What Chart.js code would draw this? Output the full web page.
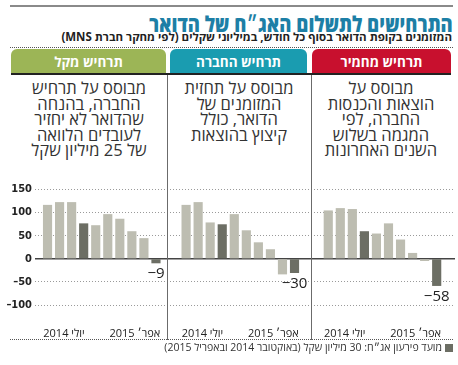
<!DOCTYPE html>
<html lang="he">
<head>
<meta charset="utf-8">
<script src="https://cdn.jsdelivr.net/npm/chart.js@4.4.0/dist/chart.umd.min.js"></script>
<style>
  html, body { margin: 0; padding: 0; background: #fff; }
  #page { position: relative; width: 458px; height: 365px; overflow: hidden; font-family: "Open Sans", "Liberation Sans", sans-serif; }
  .abs { position: absolute; }
  .rule { position: absolute; left: 10px; width: 443px; }
  #title { right: 5px; top: 8px; font-size: 22px; font-weight: 800; color: #1d7fa6; white-space: nowrap; line-height: 30px; transform: scaleX(0.84); transform-origin: right center; }
  #subtitle { right: 6px; top: 30px; font-size: 11.5px; font-weight: 700; color: #222; white-space: nowrap; line-height: 14px; }
  .tab { position: absolute; top: 49px; height: 24px; border-radius: 6px 6px 0 0; color: #fff; font-weight: 700; font-size: 13.5px; line-height: 26px; text-align: center; }
  .desc { position: absolute; top: 80px; font-size: 16.5px; line-height: 15.5px; color: #333; text-align: center; direction: rtl; }
  .divider { position: absolute; top: 75px; width: 1px; height: 265px; background: #6b6b6b; }
  #chartBox { position: absolute; left: 0; top: 170px; width: 458px; height: 175px; }
  #legend { right: 5px; top: 340px; font-size: 10.5px; color: #333; direction: rtl; white-space: nowrap; line-height: 14px; }
  #legend span.sq { display: inline-block; width: 8px; height: 8px; background: #6c6e64; margin-left: 3px; vertical-align: -1px; }
</style>
</head>
<body>
<div id="page">
  <div class="rule" style="top:5px;height:2px;background:#8a8a8a;"></div>
  <div id="title" class="abs" dir="rtl">התרחישים לתשלום האג״ח של הדואר</div>
  <div id="subtitle" class="abs" dir="rtl">המזומנים בקופת הדואר בסוף כל חודש, במיליוני שקלים (לפי מחקר חברת MNS)</div>
  <div class="rule" style="top:47px;height:0;border-top:1px dotted #555;"></div>

  <div class="tab" style="left:11px;width:155px;background:#9cb556;">תרחיש מקל</div>
  <div class="tab" style="left:170px;width:137px;background:#1a9cb0;">תרחיש החברה</div>
  <div class="tab" style="left:312px;width:139px;background:#c8102e;">תרחיש מחמיר</div>
  <div class="abs" style="left:11px;top:73px;width:440px;height:2px;background:#222;"></div>

  <div class="desc" style="left:11px;width:156px;">מבוסס על תרחיש<br>החברה, בהנחה<br>שהדואר לא יחזיר<br>לעובדים הלוואה<br>של 25 מיליון שקל</div>
  <div class="desc" style="left:167px;width:144px;">מבוסס על תחזית<br>המזומנים של<br>הדואר, כולל<br>קיצוץ בהוצאות</div>
  <div class="desc" style="left:311px;width:140px;">מבוסס על<br>הוצאות והכנסות<br>החברה, לפי<br>המגמה בשלוש<br>השנים האחרונות</div>

  <div id="chartBox"><canvas id="chart" width="458" height="175"></canvas></div>

  <div class="divider" style="left:167px;"></div>
  <div class="divider" style="left:311px;"></div>

  <div class="rule" style="top:339px;height:0;border-top:1px dotted #555;"></div>
  <div id="legend" class="abs"><span class="sq"></span>מועד פירעון אג״ח: 30 מיליון שקל (באוקטובר 2014 ובאפריל 2015)</div>
</div>

<script>
// months shown in each panel (left to right)
const months = ['2014-07', '2014-08', '2014-09', '2014-10', '2014-11', '2014-12', '2015-01', '2015-02', '2015-03', '2015-04'];
const bondMonths = ['2014-10', '2015-04'];
const xTickLabels = ['יולי 2014', 'אפר׳ 2015'];
const yTicks = [150, 100, 50, 0, -50, -100];

// cash at end of month, millions of shekels
const mildScenario = [116, 122, 122, 76, 72, 96, 86, 59, 44, -9];
const companyScenario = [116, 122, 78, 74, 96, 61, 35, 20, -33, -30];
const severeScenario = [104, 109, 107, 59, 54, 76, 41, 12, -4, -58];
const endLabels = ['−9', '−30', '−58'];

const scenarios = [mildScenario, companyScenario, severeScenario];
const panelStart = [0, 11.5, 23.3]; // where each panel begins on the shared x scale

const LIGHT = '#bdbdb1';
const DARK = '#6c6e64';
const BAR_W = 8.5;

const datasets = scenarios.map((vals, p) => ({
  data: vals.map((v, i) => ({ x: panelStart[p] + i, y: v })),
  backgroundColor: (c) => bondMonths.includes(months[c.dataIndex]) ? DARK : LIGHT,
  barThickness: BAR_W,
  grouped: false,
  borderWidth: 0
}));

const panelLabels = {
  id: 'panelLabels',
  afterDatasetsDraw(chart) {
    const ctx = chart.ctx;
    const xs = chart.scales.x, ys = chart.scales.y;
    ctx.save();
    ctx.direction = 'rtl';
    ctx.fillStyle = '#222';
    ctx.textBaseline = 'middle';
    // month labels under first and last bar of each panel
    ctx.font = '11px "Open Sans", "Liberation Sans", sans-serif';
    const yLab = chart.chartArea.bottom + 16;
    scenarios.forEach((vals, p) => {
      const first = xs.getPixelForValue(panelStart[p]) - BAR_W / 2;
      const last = xs.getPixelForValue(panelStart[p] + vals.length - 1) + BAR_W / 2;
      ctx.textAlign = 'left';
      ctx.fillText(xTickLabels[0], first, yLab);
      ctx.textAlign = 'right';
      ctx.fillText(xTickLabels[1], last, yLab);
    });
    // value of the final month under the last bar
    ctx.direction = 'ltr';
    ctx.textAlign = 'center';
    ctx.font = '15px "Open Sans", "Noto Sans", sans-serif';
    scenarios.forEach((vals, p) => {
      const i = vals.length - 1;
      const x = xs.getPixelForValue(panelStart[p] + i);
      const y = ys.getPixelForValue(vals[i]) + 11;
      ctx.fillText(endLabels[p], x, y);
    });
    ctx.restore();
  }
};

new Chart(document.getElementById('chart'), {
  type: 'bar',
  data: { datasets },
  plugins: [panelLabels],
  options: {
    responsive: false,
    animation: false,
    devicePixelRatio: 1,
    layout: { padding: { left: 0, right: 3, top: 14, bottom: 27 } },
    plugins: { legend: { display: false }, tooltip: { enabled: false } },
    scales: {
      x: {
        type: 'linear',
        offset: false,
        min: -1.04,
        max: 33.82,
        display: false
      },
      y: {
        min: -128.1,
        max: 161.9,
        afterFit: (s) => { s.width = 35; },
        afterBuildTicks: (s) => { s.ticks = yTicks.map(v => ({ value: v })); },
        border: {
          display: false,
          dash: (c) => c.tick && c.tick.value === 0 ? [] : [1, 2]
        },
        grid: {
          drawTicks: false,
          color: (c) => c.tick && c.tick.value === 0 ? '#444' : '#9a9a9a',
          lineWidth: (c) => c.tick && c.tick.value === 0 ? 1.6 : 1
        },
        ticks: {
          padding: 3,
          color: '#222',
          font: { family: '"Liberation Sans Narrow", "DejaVu Sans Condensed", sans-serif', size: 11, weight: 'bold' },
          callback: (v) => v < 0 ? '–' + (-v) : String(v)
        }
      }
    }
  }
});
</script>
</body>
</html>
